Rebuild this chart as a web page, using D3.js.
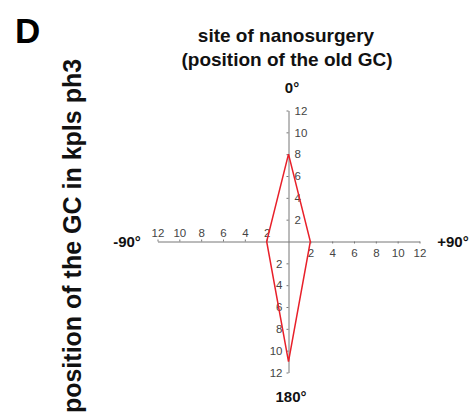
<!DOCTYPE html>
<html>
<head>
<meta charset="utf-8">
<script src="https://cdn.jsdelivr.net/npm/d3@7"></script>
<style>
  body { margin: 0; background: #fff; }
  text { font-family: "Liberation Sans", Arial, sans-serif; }
</style>
</head>
<body>
<script>
var width = 474
var height = 418
var cx = 288.5
var cy = 241.5
var radius = 131

// directions in degrees (0 = up, clockwise) and the distance of the new GC for each
var angles = [0, 90, 180, -90]
var values = [8, 2, 11, 2]
var dirLabels = ['0°', '+90°', '180°', '-90°']
var tickValues = [2, 4, 6, 8, 10, 12]
var maxValue = 12

var points = angles.map((a, i) => ({angle: a, value: values[i]}))

var svg = d3.select('body').append('svg')
    .attr('width', width)
    .attr('height', height)

var r = d3.scaleLinear().domain([0, maxValue]).range([0, radius])

// one scale per half axis
var upScale = d3.scaleLinear().domain([0, maxValue]).range([cy, cy - radius])
var downScale = d3.scaleLinear().domain([0, maxValue]).range([cy, cy + radius])
var leftScale = d3.scaleLinear().domain([0, maxValue]).range([cx, cx - radius])
var rightScale = d3.scaleLinear().domain([0, maxValue]).range([cx, cx + radius])

function styleAxis(g) {
  g.select('.domain').attr('stroke', '#777').attr('stroke-width', 1)
  g.selectAll('.tick line').attr('stroke', '#777')
  g.selectAll('.tick text')
    .attr('fill', '#444')
    .style('font-family', '"Liberation Sans", Arial, sans-serif')
    .style('font-size', '11.5px')
}

svg.append('g')
   .attr('transform', 'translate(' + [cx, 0] + ')')
   .call(d3.axisRight(upScale).tickValues(tickValues).tickSize(-2).tickSizeOuter(0).tickPadding(6))
   .call(styleAxis)

svg.append('g')
   .attr('transform', 'translate(' + [cx, 0] + ')')
   .call(d3.axisLeft(downScale).tickValues(tickValues).tickSize(2).tickSizeOuter(0).tickPadding(4))
   .call(styleAxis)

svg.append('g')
   .attr('transform', 'translate(' + [0, cy] + ')')
   .call(d3.axisTop(leftScale).tickValues(tickValues).tickSize(2).tickSizeOuter(0).tickPadding(3))
   .call(styleAxis)

svg.append('g')
   .attr('transform', 'translate(' + [0, cy] + ')')
   .call(d3.axisBottom(rightScale).tickValues(tickValues).tickSize(2).tickSizeOuter(0).tickPadding(5))
   .call(styleAxis)

var radial = d3.lineRadial()
    .angle(d => d.angle * Math.PI / 180)
    .radius(d => r(d.value))
    .curve(d3.curveLinearClosed)

svg.append('path')
   .attr('transform', 'translate(' + [cx, cy] + ')')
   .attr('d', radial(points))
   .attr('fill', 'none')
   .attr('stroke', '#e8202a')
   .attr('stroke-width', 1.5)

// direction labels
var dirPos = [[292, 93], [453, 247], [291, 402], [127, 247]]
svg.selectAll('.dir')
   .data(dirLabels)
   .enter().append('text')
   .attr('class', 'dir')
   .attr('x', (d, i) => dirPos[i][0])
   .attr('y', (d, i) => dirPos[i][1])
   .attr('text-anchor', 'middle')
   .style('font-weight', 'bold')
   .style('font-size', '15px')
   .attr('fill', '#111')
   .text(d => d)

svg.append('text')
   .attr('x', 286).attr('y', 42)
   .attr('text-anchor', 'middle')
   .style('font-weight', 'bold').style('font-size', '19px')
   .attr('fill', '#111')
   .text('site of nanosurgery')

svg.append('text')
   .attr('x', 287).attr('y', 66)
   .attr('text-anchor', 'middle')
   .style('font-weight', 'bold').style('font-size', '19px')
   .attr('fill', '#111')
   .text('(position of the old GC)')

svg.append('text')
   .attr('x', 15).attr('y', 43)
   .style('font-weight', 'bold').style('font-size', '35px')
   .attr('fill', '#000')
   .text('D')

svg.append('text')
   .attr('transform', 'translate(81,236) rotate(-90)')
   .attr('text-anchor', 'middle')
   .style('font-weight', 'bold').style('font-size', '25px')
   .attr('fill', '#111')
   .text('position of the GC in kpls ph3')
</script>
</body>
</html>
